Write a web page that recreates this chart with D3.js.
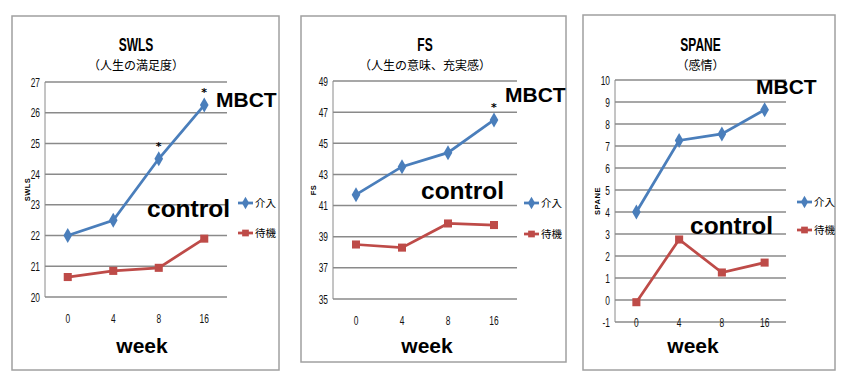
<!DOCTYPE html>
<html>
<head>
<meta charset="utf-8">
<script src="https://cdn.jsdelivr.net/npm/d3@7"></script>
<style>
body { margin: 0; background: #fff; }
svg { display: block; }
.narrow { font-family: "Liberation Sans", Arial, sans-serif; }
.jp { font-family: "Noto Sans CJK JP", sans-serif; }
.big { font-family: "Liberation Sans", Arial, sans-serif; font-weight: bold; }
</style>
</head>
<body>
<div id="chart"></div>
<script>
const weeks = ['0', '4', '8', '16'];
const legendLabels = ['介入', '待機'];

const swlsMBCT = [22.0, 22.5, 24.5, 26.25];
const swlsControl = [20.65, 20.85, 20.95, 21.9];
const swlsTicks = [20, 21, 22, 23, 24, 25, 26, 27];
const swlsStars = ['8', '16'];

const fsMBCT = [41.7, 43.5, 44.4, 46.5];
const fsControl = [38.5, 38.3, 39.85, 39.75];
const fsTicks = [35, 37, 39, 41, 43, 45, 47, 49];
const fsStars = ['16'];

const spaneMBCT = [4.0, 7.25, 7.55, 8.65];
const spaneControl = [-0.1, 2.75, 1.25, 1.7];
const spaneTicks = [-1, 0, 1, 2, 3, 4, 5, 6, 7, 8, 9, 10];
const spaneStars = [];

const blue = '#4a7ebb';
const red = '#be4b48';

// layout per panel (pixel boxes)
const panels = [
	{
		title: 'SWLS', sub: '（人生の満足度）', yLabel: 'SWLS',
		mbct: swlsMBCT, control: swlsControl, ticks: swlsTicks, stars: swlsStars,
		frame: [12, 16, 279, 370], plot: [45, 82, 227, 297], xLabelY: 318,
		mbctPos: [216, 100], controlPos: [147, 208], legend: [238, 203, 233], yLabelX: 27, weekX: 142
	},
	{
		title: 'FS', sub: '（人生の意味、充実感）', yLabel: 'FS',
		mbct: fsMBCT, control: fsControl, ticks: fsTicks, stars: fsStars,
		frame: [301, 16, 566, 362], plot: [333, 81, 517, 299], xLabelY: 320,
		mbctPos: [505, 95], controlPos: [421, 190], legend: [524, 203, 234], yLabelX: 313, weekX: 427
	},
	{
		title: 'SPANE', sub: '（感情）', yLabel: 'SPANE',
		mbct: spaneMBCT, control: spaneControl, ticks: spaneTicks, stars: spaneStars,
		frame: [583, 15, 835, 370], plot: [615, 80, 786, 322], xLabelY: 322,
		mbctPos: [756, 87], controlPos: [690, 225], legend: [797, 202, 230], yLabelX: 597, weekX: 693
	}
];

const svg = d3.select('#chart').append('svg')
	.attr('width', 852)
	.attr('height', 385);

// condensed-looking text: regular font squeezed horizontally (and optionally stretched up)
function narrowText(sel, x, y, size, sx, sy) {
	return sel.append('text')
		.attr('class', 'narrow')
		.attr('transform', `translate(${x},${y}) scale(${sx},${sy || 1})`)
		.attr('dy', '0.35em')
		.attr('font-size', size);
}

panels.forEach(p => {
	const g = svg.append('g');
	const [fx0, fy0, fx1, fy1] = p.frame;
	const [px0, py0, px1, py1] = p.plot;

	g.append('rect')
		.attr('x', fx0).attr('y', fy0)
		.attr('width', fx1 - fx0).attr('height', fy1 - fy0)
		.attr('fill', '#fff')
		.attr('stroke', '#a0a0a0')
		.attr('stroke-width', 1.5);

	const x = d3.scaleBand().domain(weeks).range([px0, px1]);
	const y = d3.scaleLinear().domain(d3.extent(p.ticks)).range([py1, py0]);
	const cx = d => x(d) + x.bandwidth() / 2;

	// gridlines
	g.selectAll('.grid').data(p.ticks).join('line')
		.attr('x1', px0).attr('x2', px1)
		.attr('y1', d => y(d)).attr('y2', d => y(d))
		.attr('stroke', '#8a8a8a')
		.attr('stroke-width', 1.5);

	g.append('line')
		.attr('x1', px0).attr('x2', px0)
		.attr('y1', py0).attr('y2', py1)
		.attr('stroke', '#8a8a8a');

	// y ticks
	p.ticks.forEach(t => {
		narrowText(g, px0 - 5, y(t), 12, 0.7, 1.1)
			.attr('text-anchor', 'end')
			.attr('fill', '#111')
			.text(t);
	});

	// x ticks
	weeks.forEach(w => {
		narrowText(g, cx(w), p.xLabelY, 12, 0.7, 1.1)
			.attr('text-anchor', 'middle')
			.attr('fill', '#111')
			.text(w);
	});

	// titles
	const midPlot = (px0 + px1) / 2;
	narrowText(g, midPlot, 44, 16, 0.75, 1.2)
		.attr('text-anchor', 'middle')
		.attr('font-weight', 'bold')
		.text(p.title);
	g.append('text')
		.attr('class', 'jp')
		.attr('x', midPlot).attr('y', 65.5)
		.attr('dy', '0.35em')
		.attr('text-anchor', 'middle')
		.attr('font-size', 12)
		.text(p.sub);

	// y axis title
	g.append('text')
		.attr('font-family', 'Liberation Sans, Arial, sans-serif')
		.attr('font-weight', 'bold')
		.attr('font-size', 7.5)
		.attr('letter-spacing', 0.5)
		.attr('text-anchor', 'middle')
		.attr('transform', `translate(${p.yLabelX},${(py0 + py1) / 2}) rotate(-90)`)
		.attr('dy', '0.35em')
		.text(p.yLabel);

	const line = d3.line().x((d, i) => cx(weeks[i])).y(d => y(d));

	const series = [
		{ values: p.mbct, color: blue, shape: d3.symbolDiamond },
		{ values: p.control, color: red, shape: d3.symbolSquare }
	];

	series.forEach(s => {
		g.append('path')
			.attr('d', line(s.values))
			.attr('fill', 'none')
			.attr('stroke', s.color)
			.attr('stroke-width', 2.75);
		g.selectAll(null).data(s.values).join('path')
			.attr('d', d3.symbol().type(s.shape).size(65))
			.attr('transform', (d, i) => `translate(${cx(weeks[i])},${y(d)})`)
			.attr('fill', s.color);
	});

	// significance stars
	g.selectAll('.star').data(p.stars).join('text')
		.attr('x', d => cx(d))
		.attr('y', d => y(p.mbct[weeks.indexOf(d)]) - 13)
		.attr('dy', '0.35em')
		.attr('text-anchor', 'middle')
		.attr('font-family', 'DejaVu Sans, sans-serif')
		.attr('font-size', 11)
		.attr('font-weight', 'bold')
		.text('*');

	// legend
	const [lx, ly1, ly2] = p.legend;
	series.forEach((s, i) => {
		const ly = i === 0 ? ly1 : ly2;
		g.append('line')
			.attr('x1', lx).attr('x2', lx + 15)
			.attr('y1', ly).attr('y2', ly)
			.attr('stroke', s.color)
			.attr('stroke-width', 2.75);
		g.append('path')
			.attr('d', d3.symbol().type(s.shape).size(45))
			.attr('transform', `translate(${lx + 7.5},${ly})`)
			.attr('fill', s.color);
		g.append('text')
			.attr('class', 'jp')
			.attr('x', lx + 17).attr('y', ly)
			.attr('dy', '0.35em')
			.attr('font-size', 10.5)
			.text(legendLabels[i]);
	});

	// annotations
	g.append('text')
		.attr('class', 'big')
		.attr('x', p.mbctPos[0]).attr('y', p.mbctPos[1])
		.attr('dy', '0.35em')
		.attr('font-size', 21)
		.text('MBCT');
	g.append('text')
		.attr('class', 'big')
		.attr('x', p.controlPos[0]).attr('y', p.controlPos[1])
		.attr('dy', '0.35em')
		.attr('font-size', 24.5)
		.text('control');
	g.append('text')
		.attr('class', 'big')
		.attr('x', p.weekX).attr('y', 346)
		.attr('dy', '0.35em')
		.attr('text-anchor', 'middle')
		.attr('font-size', 21)
		.text('week');
});
</script>
</body>
</html>
